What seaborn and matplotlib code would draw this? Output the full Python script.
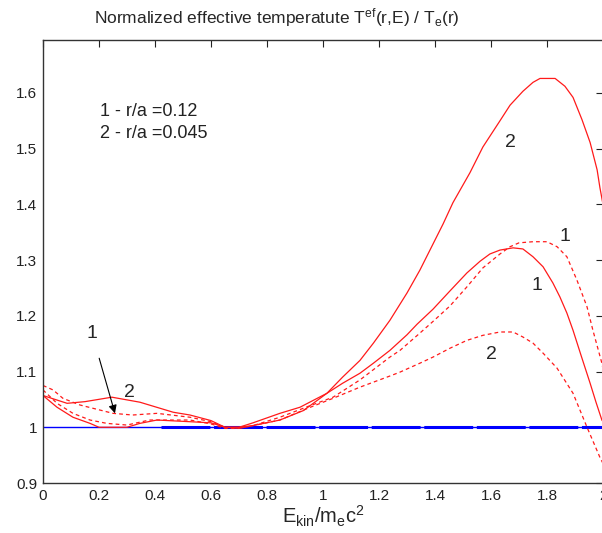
import numpy as np
import pandas as pd
import seaborn as sns
import matplotlib
matplotlib.use("Agg")
import matplotlib.pyplot as plt

sns.set_theme(style="white")
plt.rcParams['font.family'] = ['Liberation Sans', 'DejaVu Sans']
plt.rcParams['mathtext.fontset'] = 'custom'
plt.rcParams['mathtext.rm'] = 'Liberation Sans'
plt.rcParams['mathtext.it'] = 'Liberation Sans'

# curve 1 (r/a = 0.12), solid
x_s1 = [0, 0, 0.05, 0.107, 0.168, 0.2, 0.3, 0.346, 0.407, 0.525, 0.6, 0.65, 0.7, 0.75,
        0.846, 0.93, 1.014, 1.07, 1.132, 1.18, 1.239, 1.3, 1.336, 1.393, 1.454, 1.514, 1.561,
        1.596, 1.632, 1.679, 1.714, 1.75, 1.786, 1.821, 1.846, 1.871, 1.893, 1.921, 1.954,
        1.975, 1.996, 2.0]
y_s1 = [0.85, 1.057, 1.036, 1.018, 1.007, 1.0, 1.0, 1.007, 1.013, 1.01, 1.008, 1.0, 1.0, 1.003,
        1.013, 1.03, 1.061, 1.079, 1.097, 1.115, 1.138, 1.166, 1.185, 1.212, 1.245, 1.277, 1.298,
        1.311, 1.318, 1.322, 1.320, 1.306, 1.288, 1.259, 1.234, 1.205, 1.174, 1.13, 1.079,
        1.045, 1.013, 1.01]

# curve 2 (r/a = 0.045), solid
x_s2 = [0, 0.086, 0.15, 0.246, 0.346, 0.465, 0.525, 0.6, 0.65, 0.7, 0.75, 0.846, 0.918,
        1.014, 1.07, 1.132, 1.18, 1.239, 1.3, 1.346, 1.382, 1.429, 1.464, 1.525, 1.571, 1.632,
        1.668, 1.714, 1.75, 1.775, 1.829, 1.864, 1.893, 1.925, 1.954, 1.979, 1.989, 2.0]
y_s2 = [1.057, 1.043, 1.046, 1.054, 1.045, 1.027, 1.022, 1.012, 1.0, 1.0, 1.008, 1.025, 1.036,
        1.061, 1.09, 1.12, 1.151, 1.192, 1.241, 1.282, 1.318, 1.365, 1.403, 1.457, 1.503, 1.55,
        1.578, 1.603, 1.619, 1.626, 1.626, 1.612, 1.592, 1.552, 1.511, 1.462, 1.43, 1.40]

# curve 1, dashed
x_d1 = [0, 0.036, 0.071, 0.132, 0.179, 0.25, 0.32, 0.407, 0.525, 0.6, 0.65, 0.7, 0.75,
        0.846, 0.95, 1.036, 1.132, 1.239, 1.275, 1.346, 1.393, 1.454, 1.514, 1.571, 1.632,
        1.668, 1.70, 1.75, 1.80, 1.836, 1.871, 1.907, 1.943, 1.964, 1.996, 2.0]
y_d1 = [1.075, 1.067, 1.052, 1.04, 1.034, 1.025, 1.022, 1.025, 1.018, 1.01, 1.0, 0.998, 1.003,
        1.018, 1.038, 1.054, 1.085, 1.126, 1.138, 1.169, 1.19, 1.218, 1.252, 1.286, 1.311,
        1.324, 1.331, 1.333, 1.333, 1.324, 1.306, 1.264, 1.216, 1.174, 1.115, 1.105]

# curve 2, dashed
x_d2 = [0, 0.05, 0.107, 0.168, 0.228, 0.3, 0.38, 0.525, 0.6, 0.65, 0.7, 0.75, 0.846, 0.95,
        1.036, 1.132, 1.239, 1.275, 1.346, 1.393, 1.454, 1.514, 1.571, 1.632, 1.679, 1.714,
        1.75, 1.786, 1.836, 1.893, 1.943, 1.989, 2.0]
y_d2 = [1.067, 1.043, 1.025, 1.013, 1.007, 1.004, 1.013, 1.013, 1.006, 0.998, 0.998, 1.003,
        1.013, 1.035, 1.052, 1.072, 1.092, 1.099, 1.115, 1.126, 1.142, 1.156, 1.165, 1.171,
        1.171, 1.162, 1.151, 1.133, 1.106, 1.061, 1.0, 0.946, 0.935]

fig = plt.figure(figsize=(6.02, 5.33), dpi=100)
ax = fig.add_axes([43 / 602, 50 / 533, 560 / 602, 443 / 533])

red = "#ff1a1a"
for xs, ys, ls in [(x_s1, y_s1, "-"), (x_s2, y_s2, "-"), (x_d1, y_d1, "--"), (x_d2, y_d2, "--")]:
    df = pd.DataFrame({"x": xs, "y": ys})
    sns.lineplot(data=df, x="x", y="y", ax=ax, color=red, lw=0.9, linestyle=ls,
                 sort=False, estimator=None)
    if ls == "--":
        ax.lines[-1].set_dashes((3, 2.5))

# reference level
ax.axhline(1.0, color="#0000ff", lw=1.0, zorder=1)
ax.plot([0.42, 2.0], [1.0, 1.0], color="#0000ff", lw=2.2, dashes=(16, 1.2), zorder=1)

ax.set_xlim(0, 2)
ax.set_ylim(0.9, 1.695)
ax.set_xticks(np.arange(0, 2.01, 0.2))
ax.set_xticklabels(["0", "0.2", "0.4", "0.6", "0.8", "1", "1.2", "1.4", "1.6", "1.8", "2"])
ax.set_yticks([0.9, 1.0, 1.1, 1.2, 1.3, 1.4, 1.5, 1.6])
ax.set_yticklabels(["0.9", "1", "1.1", "1.2", "1.3", "1.4", "1.5", "1.6"])
ax.tick_params(direction="in", length=5, width=0.8, top=True, right=True,
               labelsize=11, colors="#222222", pad=4)
for s in ax.spines.values():
    s.set_color("#333333")
    s.set_linewidth(1.0)

ax.set_xlabel(r"E$_{\mathregular{kin}}$/m$_{\mathregular{e}}$c$^{\mathregular{2}}$", fontsize=14.5, labelpad=1)
ax.set_ylabel("")
ax.set_title(r"Normalized effective temperatute T$^{\mathregular{ef}}$(r,E) / T$_{\mathregular{e}}$(r)",
             fontsize=12.5, pad=12, x=(277 - 43) / 560)

txt = dict(fontsize=13, color="#222222")
ax.text(0.204, 1.567, "1 - r/a =0.12", va="center", **txt)
ax.text(0.204, 1.527, "2 - r/a =0.045", va="center", **txt)
ax.text(1.668, 1.511, "2", ha="center", va="center", fontsize=14)
ax.text(1.864, 1.342, "1", ha="center", va="center", fontsize=14)
ax.text(1.764, 1.255, "1", ha="center", va="center", fontsize=14)
ax.text(1.60, 1.13, "2", ha="center", va="center", fontsize=14)
ax.text(0.31, 1.063, "2", ha="center", va="center", fontsize=14)
ax.annotate("1", xy=(0.257, 1.025), xytext=(0.175, 1.169), ha="center", va="center",
            fontsize=14, arrowprops=dict(arrowstyle="-|>", color="black", lw=0.8,
                                         shrinkA=10, shrinkB=0, mutation_scale=12))

fig.savefig("out.png", dpi=100)
